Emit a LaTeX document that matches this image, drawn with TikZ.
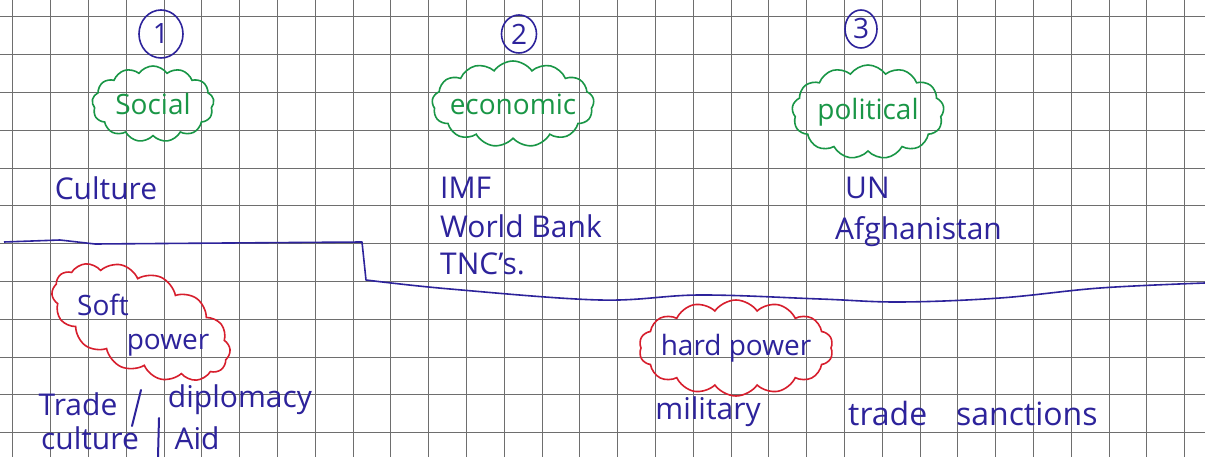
\documentclass[tikz,border=0pt]{standalone}
\usepackage{fontspec}
\setmainfont{Open Sans}
\usetikzlibrary{shapes.symbols,shapes.geometric}
\definecolor{inkblue}{RGB}{45,35,155}
\definecolor{inkgreen}{RGB}{25,150,70}
\definecolor{inkred}{RGB}{215,30,45}
\definecolor{gridgray}{RGB}{110,110,110}
\tikzset{
  gridline/.style={gridgray, line width=0.6pt},
  note/.style={text=inkblue, inner sep=0pt, font=\fontsize{30}{34}\selectfont},
  numbered/.style={ellipse, draw=inkblue, line width=1.6pt, text=inkblue,
    inner sep=0pt, font=\fontsize{28}{30}\selectfont},
  topiccloud/.style={cloud, cloud puffs=13, cloud puff arc=110, draw=inkgreen,
    line width=1.6pt, inner sep=0pt},
  topic/.style={text=inkgreen, inner sep=0pt, font=\fontsize{28}{30}\selectfont},
  powercloud/.style={cloud, cloud puffs=14, cloud puff arc=110, draw=inkred,
    line width=1.6pt, inner sep=0pt},
  divider/.style={inkblue, line width=1.6pt, line join=round},
  stroke/.style={inkblue, line width=2pt, line cap=round}
}
\begin{document}
\begin{tikzpicture}[x=1pt, y=-1pt]
  \useasboundingbox[fill=white] (0,0) rectangle (1205,457);

  % squared paper
  \foreach \i in {0,...,31}{
    \draw[gridline] (12.7+37.8*\i,0) -- (12.7+37.8*\i,457);
  }
  \foreach \j in {0,...,11}{
    \draw[gridline] (0,16.7+37.8*\j) -- (1205,16.7+37.8*\j);
  }

  % the three headings
  \node[numbered, minimum width=44, minimum height=48] (one) at (161,34) {1};
  \node[numbered, minimum width=35, minimum height=38] (two) at (519,34) {2};
  \node[numbered, minimum width=32, minimum height=38] (three) at (861,29) {3};

  \node[topiccloud, minimum width=122, minimum height=76] (socialcloud) at (153,104) {};
  \node[topiccloud, minimum width=162, minimum height=86] (economiccloud) at (513,104) {};
  \node[topiccloud, minimum width=152, minimum height=94] (politicalcloud) at (868,112) {};
  \node[topic] (social) at (socialcloud) {Social};
  \node[topic] (economic) at (economiccloud) {economic};
  \node[topic] (political) at (politicalcloud) {political};

  \node[note] (culture) at (106,188) {Culture};
  \node[note, anchor=west] (imf) at (440,188) {IMF};
  \node[note, anchor=west] (worldbank) at (440,226) {World Bank};
  \node[note, anchor=west] (tnc) at (440,264) {TNC's.};
  \node[note, anchor=west] (un) at (845,188) {UN};
  \node[note, anchor=west] (afghanistan) at (835,232) {Afghanistan};

  % soft / hard divide
  \draw[divider] (4,242) -- (60,240) -- (95,244) -- (362,242) -- (366,280)
    -- plot[smooth, tension=0.6] coordinates {(366,280) (450,289) (600,300)
    (700,295) (820,299) (900,302) (1000,298) (1100,288) (1205,283)};

  \node[powercloud, rotate=-24, minimum width=190, minimum height=98] (softcloud) at (141,322) {};
  \node[note, font=\fontsize{28}{30}\selectfont] (soft) at (103,305) {Soft};
  \node[note, font=\fontsize{28}{30}\selectfont] (softpower) at (168,345) {power};

  \node[powercloud, minimum width=194, minimum height=96] (hardcloud) at (736,348) {};
  \node[note, font=\fontsize{28}{30}\selectfont] (hardpower) at (hardcloud) {hard power};

  \node[note] (trade) at (78,404) {Trade};
  \node[note] (diplomacy) at (240,400) {diplomacy};
  \node[note] (culture2) at (90,438) {culture};
  \node[note] (aid) at (197,438) {Aid};
  \draw[stroke] (141,390) -- (132,426);
  \draw[stroke] (159,418) -- (158,457);

  \node[note] (military) at (708,412) {military};
  \node[note, anchor=west, font=\fontsize{32}{34}\selectfont] (sanctions) at (848,413) {trade\hspace{0.9em}sanctions};
\end{tikzpicture}
\end{document}
